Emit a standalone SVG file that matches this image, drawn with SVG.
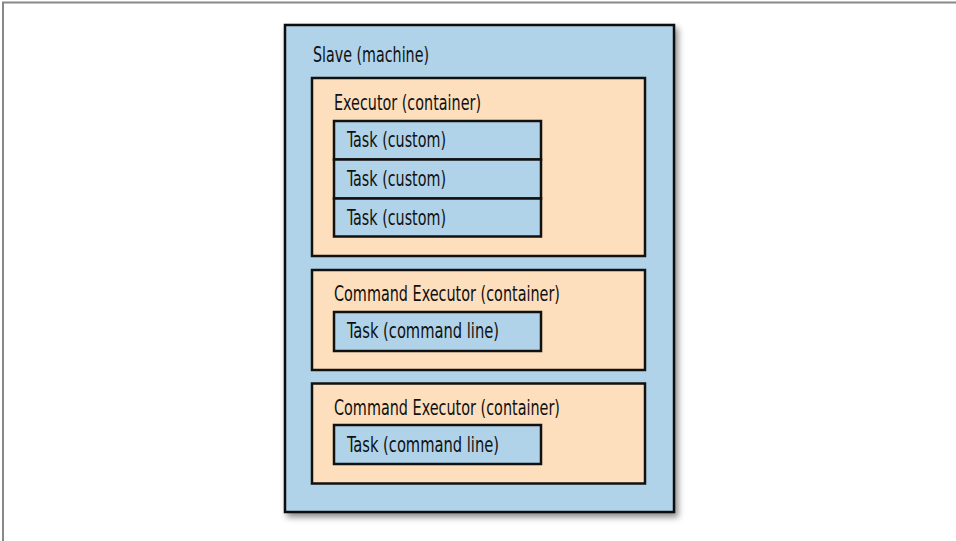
<svg xmlns="http://www.w3.org/2000/svg" width="956" height="541" viewBox="0 0 956 541">
<style>
.blue{fill:#b0d3e9;stroke:#111;stroke-width:2.5}
.peach{fill:#fddfbd;stroke:#111;stroke-width:2.5}
.t{font-family:"Liberation Sans Narrow","DejaVu Sans Condensed","Liberation Sans",sans-serif;font-size:21px;fill:#111}
</style>
<defs>
<filter id="sh" x="-10%" y="-10%" width="130%" height="130%">
<feDropShadow dx="3" dy="4" stdDeviation="3" flood-color="#000" flood-opacity="0.45"/>
</filter>
</defs>
<path d="M3,541 V2.5 H956" fill="none" stroke="#888" stroke-width="2"/>
<g id="slave">
<rect class="blue" x="285" y="25" width="389" height="487" filter="url(#sh)"/>
<text class="t" x="313" y="61.5" textLength="116" lengthAdjust="spacingAndGlyphs">Slave (machine)</text>
</g>
<g id="executor">
<rect class="peach" x="312" y="78" width="333" height="178"/>
<text class="t" x="334" y="109.5" textLength="147" lengthAdjust="spacingAndGlyphs">Executor (container)</text>
</g>
<g id="task1">
<rect class="blue" x="334" y="121" width="207" height="38.5"/>
<text class="t" x="347" y="147" textLength="99" lengthAdjust="spacingAndGlyphs">Task (custom)</text>
</g>
<g id="task2">
<rect class="blue" x="334" y="159.5" width="207" height="39"/>
<text class="t" x="347" y="185.5" textLength="99" lengthAdjust="spacingAndGlyphs">Task (custom)</text>
</g>
<g id="task3">
<rect class="blue" x="334" y="198.5" width="207" height="38"/>
<text class="t" x="347" y="224.5" textLength="99" lengthAdjust="spacingAndGlyphs">Task (custom)</text>
</g>
<g id="cmdexec1">
<rect class="peach" x="312" y="270" width="333" height="100"/>
<text class="t" x="334" y="301" textLength="226" lengthAdjust="spacingAndGlyphs">Command Executor (container)</text>
</g>
<g id="cmdtask1">
<rect class="blue" x="334" y="312" width="207" height="39"/>
<text class="t" x="347" y="337.5" textLength="152" lengthAdjust="spacingAndGlyphs">Task (command line)</text>
</g>
<g id="cmdexec2">
<rect class="peach" x="312" y="383.5" width="333" height="100"/>
<text class="t" x="334" y="414.5" textLength="226" lengthAdjust="spacingAndGlyphs">Command Executor (container)</text>
</g>
<g id="cmdtask2">
<rect class="blue" x="334" y="425" width="207" height="39"/>
<text class="t" x="347" y="452" textLength="152" lengthAdjust="spacingAndGlyphs">Task (command line)</text>
</g>
<g id="connectors"></g>
</svg>
